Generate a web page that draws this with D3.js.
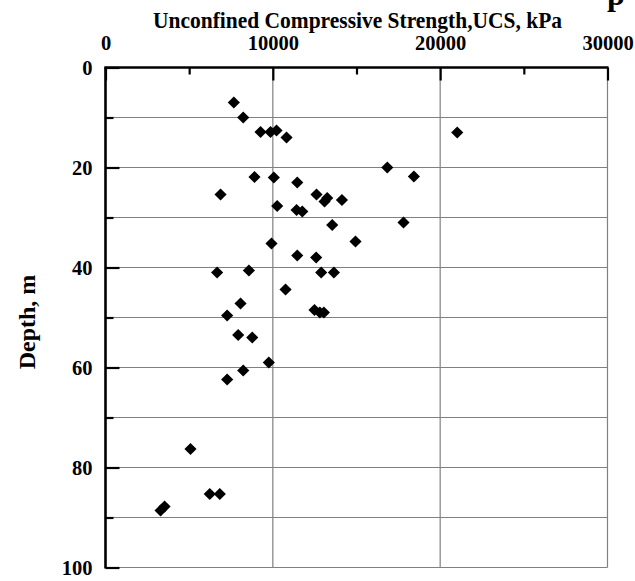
<!DOCTYPE html>
<html>
<head>
<meta charset="utf-8">
<script src="https://cdn.jsdelivr.net/npm/d3@7"></script>
<style>
  html, body { margin: 0; padding: 0; background: #fff; }
  svg { display: block; }
  text { font-family: "Liberation Serif", "Times New Roman", serif; font-weight: bold; fill: #000; }
</style>
</head>
<body>
<svg id="chart" width="635" height="581"></svg>
<script>
// UCS (kPa) measured at each sample depth (m)
const ucs = [
  7670, 8230, 9265, 9860, 10220, 10820, 21020,
  16840, 18430, 8905, 10060, 11460, 6875, 12610, 13090, 13250, 14130,
  10260, 11420, 11760, 13550, 17810, 14940, 9920,
  11460, 12590, 6670, 8570, 12890, 13650, 10760,
  8070, 7270, 12490, 12810, 13050, 7930, 8770,
  9760, 8230, 7270, 5080, 6230, 6830, 3290, 3530
];
const depth = [
  7.0, 10.0, 12.9, 12.9, 12.6, 14.0, 13.0,
  20.0, 21.8, 21.9, 22.0, 23.0, 25.4, 25.4, 26.8, 26.1, 26.5,
  27.7, 28.5, 28.8, 31.5, 31.0, 34.8, 35.2,
  37.6, 38.0, 41.0, 40.6, 41.0, 41.0, 44.4,
  47.2, 49.6, 48.5, 49.0, 49.0, 53.5, 54.0,
  59.0, 60.6, 62.4, 76.3, 85.3, 85.3, 88.6, 87.8
];

const xTicks = [0, 10000, 20000, 30000];
const xMinorTicks = [5000, 15000, 25000];
const yTicks = [0, 20, 40, 60, 80, 100];
const yMinorTicks = [10, 30, 50, 70, 90];
const yGrid = [10, 20, 30, 40, 50, 60, 70, 80, 90, 100];
const xGrid = [10000, 20000, 30000];

const xTitle = "Unconfined Compressive Strength,UCS, kPa";
const yTitle = "Depth, m";

const svg = d3.select("#chart");
const pLeft = 105.5, pRight = 607.5, pTop = 67.5, pBottom = 567.5;

const x = d3.scaleLinear().domain([0, 30000]).range([pLeft, pRight]);
const y = d3.scaleLinear().domain([0, 100]).range([pTop, pBottom]);

// grid
svg.append("g").selectAll("line").data(yGrid).join("line")
  .attr("x1", pLeft).attr("x2", pRight)
  .attr("y1", d => y(d)).attr("y2", d => y(d))
  .attr("stroke", "#808080").attr("stroke-width", 1.2);
svg.append("g").selectAll("line").data(xGrid).join("line")
  .attr("x1", d => x(d)).attr("x2", d => x(d))
  .attr("y1", pTop).attr("y2", pBottom)
  .attr("stroke", "#808080").attr("stroke-width", 1.2);

// top axis (ticks point into the plot)
const xAxis = svg.append("g").attr("transform", `translate(0,${pTop})`)
  .call(d3.axisTop(x).tickValues(xTicks).tickSize(-13).tickFormat(d3.format("d")));
xAxis.select(".domain").remove();
xAxis.selectAll(".tick line").attr("stroke", "#000").attr("stroke-width", 2.2);
xAxis.selectAll(".tick text").attr("font-size", 20.5).attr("y", -18).attr("dy", 0)
  .style("font-family", "'Liberation Serif', serif").style("font-weight", "bold");
const xMinor = svg.append("g").attr("transform", `translate(0,${pTop})`)
  .call(d3.axisTop(x).tickValues(xMinorTicks).tickSize(-7).tickFormat(""));
xMinor.select(".domain").remove();
xMinor.selectAll(".tick line").attr("stroke", "#000").attr("stroke-width", 2.2);

// left axis (ticks point into the plot)
const yAxis = svg.append("g").attr("transform", `translate(${pLeft},0)`)
  .call(d3.axisLeft(y).tickValues(yTicks).tickSize(-14).tickFormat(d3.format("d")));
yAxis.select(".domain").remove();
yAxis.selectAll(".tick line").attr("stroke", "#000").attr("stroke-width", 2.2);
yAxis.selectAll(".tick text").attr("font-size", 20.5).attr("x", -13).attr("dy", "0.34em")
  .style("font-family", "'Liberation Serif', serif").style("font-weight", "bold");
const yMinor = svg.append("g").attr("transform", `translate(${pLeft},0)`)
  .call(d3.axisLeft(y).tickValues(yMinorTicks).tickSize(-8).tickFormat(""));
yMinor.select(".domain").remove();
yMinor.selectAll(".tick line").attr("stroke", "#000").attr("stroke-width", 2.2);

// heavy frame on top and left
svg.append("line").attr("x1", pLeft - 1.2).attr("x2", pRight + 1)
  .attr("y1", pTop).attr("y2", pTop).attr("stroke", "#000").attr("stroke-width", 2.6);
svg.append("line").attr("x1", pLeft).attr("x2", pLeft)
  .attr("y1", pTop).attr("y2", pBottom + 1).attr("stroke", "#000").attr("stroke-width", 2.6);

// points
const pts = ucs.map((v, i) => ({ v, d: depth[i] }));
const diamond = d3.symbol().type(d3.symbolSquare).size(74);
svg.append("g").selectAll("path").data(pts).join("path")
  .attr("d", diamond)
  .attr("transform", p => `translate(${x(p.v)},${y(p.d)}) rotate(45)`)
  .attr("fill", "#000");

// axis titles
svg.append("text").attr("x", 153).attr("y", 28)
  .attr("font-size", 23).attr("textLength", 409).attr("lengthAdjust", "spacingAndGlyphs")
  .text(xTitle);
svg.append("text")
  .attr("transform", `translate(35,322) rotate(-90)`)
  .attr("text-anchor", "middle").attr("font-size", 24).text(yTitle);

// chart heading, mostly above the visible area
svg.append("text").attr("x", 607).attr("y", 5)
  .attr("font-size", 32).text("p");
</script>
</body>
</html>
